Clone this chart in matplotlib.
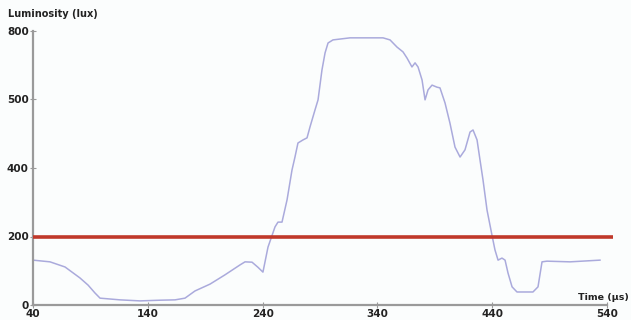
import matplotlib
matplotlib.use("Agg")
import matplotlib.pyplot as plt

# Luminosity trace over time
time_us = [40, 54.8, 67.9, 80.9, 88.0, 94.0, 98.4, 115.8, 133.2, 150.6, 163.7, 172.4,
           181.1, 194.2, 207.2, 220.3, 224.7, 230.8, 236.0, 240.3, 244.7, 250.8,
           253.4, 256.9, 261.3, 265.6, 268.2, 270.8, 275.2, 278.7, 281.3, 285.6,
           288.3, 291.7, 294.4, 297.0, 301.3, 316.1, 344.9, 351.0, 357.1, 362.3,
           365.8, 370.1, 372.8, 375.4, 378.9, 381.5, 384.1, 387.6, 391.9, 394.5,
           398.9, 403.2, 407.6, 412.0, 416.3, 420.7, 423.3, 426.8, 429.4, 432.0,
           435.5, 439.8, 442.4, 445.1, 448.5, 451.2, 453.8, 457.3, 461.6, 475.5,
           479.9, 483.4, 487.7, 507.8, 533.9]
lux = [131, 126, 111, 79, 58, 35, 20, 15, 12, 14, 15, 20,
       41, 61, 88, 117, 126, 125, 110, 96, 169, 228,
       242, 242, 307, 394, 432, 473, 482, 488, 520, 569,
       599, 686, 736, 765, 774, 780, 780, 774, 753, 739,
       721, 695, 707, 695, 657, 599, 628, 642, 636, 634,
       590, 531, 461, 432, 453, 505, 511, 482, 423, 365,
       277, 204, 161, 131, 137, 131, 93, 53, 38, 38,
       53, 126, 128, 126, 131]

threshold = 200
x_ticks = [40, 140, 240, 340, 440, 540]
y_ticks = [0, 200, 400, 600, 800]
y_tick_labels = ["0", "200", "400", "500", "800"]

fig = plt.figure(figsize=(6.31, 3.20), dpi=100)
fig.patch.set_facecolor("#fbfdfd")
ax = fig.add_axes([33 / 631, 15 / 320, 574 / 631, 274 / 320])
ax.set_facecolor("#fbfdfd")

ax.plot(time_us, lux, color="#aaaadc", linewidth=1.1, zorder=2,
        solid_joinstyle="round")
ax.plot([40, 545], [threshold, threshold], color="#c0392b", linewidth=2.6,
        solid_capstyle="butt", clip_on=False, zorder=3)

ax.set_xlim(40, 540)
ax.set_ylim(0, 800)

for side in ("top", "right"):
    ax.spines[side].set_visible(False)
for side in ("left", "bottom"):
    ax.spines[side].set_color("#9a9a9a")
    ax.spines[side].set_linewidth(1.6)

ax.set_xticks(x_ticks)
ax.set_xticklabels([str(t) for t in x_ticks])
ax.set_yticks(y_ticks)
ax.set_yticklabels(y_tick_labels)
ax.tick_params(axis="both", direction="inout", length=4, width=0.8,
               color="#9a9a9a", labelsize=7.5, labelcolor="#222222", pad=1)
for lbl in ax.get_xticklabels() + ax.get_yticklabels():
    lbl.set_fontweight("bold")

fig.text(8 / 631, 1 - 14 / 320, "Luminosity (lux)", fontsize=7, fontweight="bold",
         color="#222222", va="center", ha="left")
fig.text(629 / 631, 1 - 297 / 320, "Time (µs)", fontsize=6.8, fontweight="bold",
         color="#222222", va="center", ha="right")

fig.savefig("out.png", dpi=100, facecolor=fig.get_facecolor())
